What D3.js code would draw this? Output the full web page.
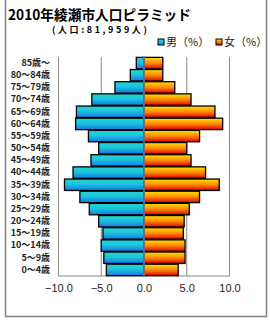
<!DOCTYPE html>
<html>
<head>
<meta charset="utf-8">
<script src="https://cdn.jsdelivr.net/npm/d3@7"></script>
<style>
  body { margin: 0; background: #fff; }
  svg { display: block; }
</style>
</head>
<body>
<script>
// age groups, top to bottom
var ageGroups = ['85歳～', '80～84歳', '75～79歳', '70～74歳', '65～69歳', '60～64歳',
  '55～59歳', '50～54歳', '45～49歳', '40～44歳', '35～39歳', '30～34歳',
  '25～29歳', '20～24歳', '15～19歳', '10～14歳', '5～9歳', '0～4歳'];
var male = [0.9, 1.6, 3.4, 6.1, 7.9, 8.0, 6.5, 5.3, 6.2, 8.3, 9.3, 7.5, 6.4, 5.3, 4.8, 5.0, 4.7, 4.4];
var female = [2.2, 2.2, 3.6, 5.5, 8.3, 9.2, 6.5, 5.0, 5.5, 7.2, 8.8, 6.5, 5.3, 4.7, 4.6, 4.8, 4.8, 4.0];
var xTicks = [-10, -5, 0, 5, 10];
var legendLabels = ['男（%）', '女（%）'];

var width = 270, height = 320;
var jp = '"Noto Sans CJK JP", sans-serif';

var svg = d3.select('body').append('svg').attr('width', width).attr('height', height);

var defs = svg.append('defs');
var gm = defs.append('linearGradient').attr('id', 'gm').attr('x1', 0).attr('y1', 0).attr('x2', 0).attr('y2', 1);
gm.append('stop').attr('offset', '0%').attr('stop-color', '#22d6d6');
gm.append('stop').attr('offset', '45%').attr('stop-color', '#1cc4dc');
gm.append('stop').attr('offset', '100%').attr('stop-color', '#1478e4');
var gf = defs.append('linearGradient').attr('id', 'gf').attr('x1', 0).attr('y1', 0).attr('x2', 0).attr('y2', 1);
gf.append('stop').attr('offset', '0%').attr('stop-color', '#ffe000');
gf.append('stop').attr('offset', '50%').attr('stop-color', '#ff8a00');
gf.append('stop').attr('offset', '100%').attr('stop-color', '#e00000');

// outer frame
svg.append('rect').attr('x', 5.5).attr('y', -2).attr('width', 261).attr('height', 318.5)
  .attr('fill', 'none').attr('stroke', '#808080').attr('stroke-width', 1.5);

// title
svg.append('text').attr('x', 8).attr('y', 20)
  .attr('textLength', 183).attr('lengthAdjust', 'spacingAndGlyphs')
  .style('font-family', jp).style('font-size', '14px').style('font-weight', 'bold')
  .attr('fill', '#000').text('2010年綾瀬市人口ピラミッド');
svg.append('text').attr('x', 52).attr('y', 33)
  .style('font-family', jp).style('font-size', '9px').style('font-weight', 'bold')
  .style('letter-spacing', '2.6px')
  .attr('fill', '#000').text('(人口:81,959人)');

var x = d3.scaleLinear().domain([-10, 10]).range([58.5, 229.5]);
var y = d3.scaleBand().domain(ageGroups).range([57, 276]).paddingInner(0.06).paddingOuter(0.03);

// gridlines
svg.append('g').selectAll('line').data([-5, 5]).enter().append('line')
  .attr('x1', function(d) { return x(d); }).attr('x2', function(d) { return x(d); })
  .attr('y1', 57).attr('y2', 276)
  .attr('stroke', '#888').attr('stroke-width', 1);

// plot frame: left, bottom, right
svg.append('path')
  .attr('d', 'M' + x(-10) + ',57V276H' + x(10) + 'V57')
  .attr('fill', 'none').attr('stroke', '#888').attr('stroke-width', 1);

var rows = ageGroups.map(function(a, i) { return { age: a, m: male[i], f: female[i] }; });

svg.append('g').selectAll('rect').data(rows).enter().append('rect')
  .attr('x', function(d) { return x(-d.m); })
  .attr('y', function(d) { return y(d.age); })
  .attr('width', function(d) { return x(0) - x(-d.m); })
  .attr('height', y.bandwidth())
  .attr('fill', 'url(#gm)').attr('stroke', '#000').attr('stroke-width', 1.3);

svg.append('g').selectAll('rect').data(rows).enter().append('rect')
  .attr('x', x(0))
  .attr('y', function(d) { return y(d.age); })
  .attr('width', function(d) { return x(d.f) - x(0); })
  .attr('height', y.bandwidth())
  .attr('fill', 'url(#gf)').attr('stroke', '#000').attr('stroke-width', 1.3);

// zero line on top
svg.append('line').attr('x1', x(0)).attr('x2', x(0)).attr('y1', 57).attr('y2', 276)
  .attr('stroke', '#888').attr('stroke-width', 1.5);

// x axis labels
var xAxis = svg.append('g').attr('transform', 'translate(0,284)')
  .call(d3.axisBottom(x).tickValues(xTicks).tickSize(0).tickPadding(0)
    .tickFormat(function(d) { return d3.format('.1f')(d).replace('-', '−'); }));
xAxis.select('.domain').remove();
xAxis.selectAll('text').style('font-family', '"Liberation Sans", Arial, sans-serif')
  .style('font-size', '11px').attr('fill', '#222').attr('dy', '0.71em');

// y axis labels
var yAxis = svg.append('g').attr('transform', 'translate(50,0)')
  .call(d3.axisLeft(y).tickSize(0).tickPadding(0));
yAxis.select('.domain').remove();
yAxis.selectAll('text').style('font-family', jp).style('font-size', '9px')
  .style('font-weight', 'bold').attr('fill', '#222');

// legend
var legend = svg.append('g');
var lx = [158, 216];
var fills = ['url(#gm)', 'url(#gf)'];
legend.selectAll('rect').data(legendLabels).enter().append('rect')
  .attr('x', function(d, i) { return lx[i]; }).attr('y', 39)
  .attr('width', 6).attr('height', 6)
  .attr('fill', function(d, i) { return fills[i]; })
  .attr('stroke', '#000').attr('stroke-width', 1);
legend.selectAll('text').data(legendLabels).enter().append('text')
  .attr('x', function(d, i) { return lx[i] + 8; }).attr('y', 46)
  .style('font-family', jp).style('font-size', '11px').attr('fill', '#222')
  .text(function(d) { return d; });
</script>
</body>
</html>
